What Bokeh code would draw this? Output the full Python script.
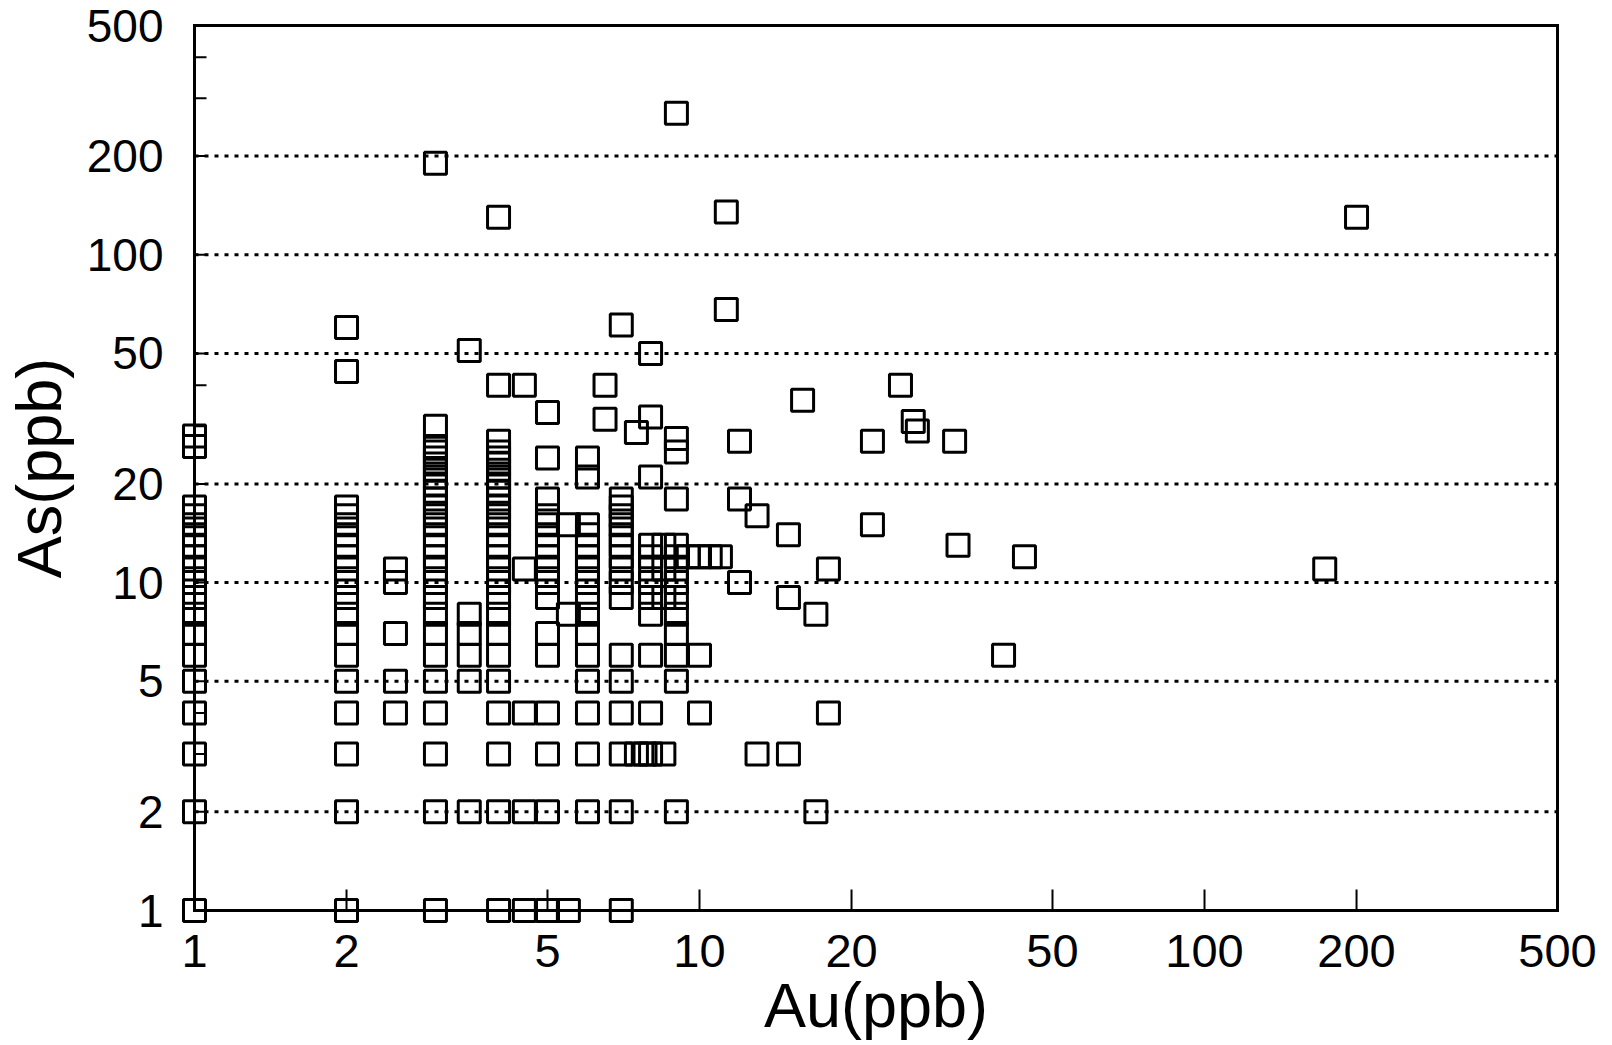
from bokeh.plotting import figure
from bokeh.models import FixedTicker, Range1d, CustomJSTickFormatter, ColumnDataSource
from bokeh.embed import file_html
from bokeh.resources import INLINE

# ---- data: As(ppb) values observed at each Au(ppb) level ----
au_levels = [1, 2, 2.5, 3, 3.5, 4, 4.5, 5, 5.5, 6, 6.5, 7, 7.5, 8, 8.5, 9]
as_by_au = {
    1:   [1, 2, 3, 4, 5, 6, 7, 8, 9, 10, 11, 12, 13, 14, 15, 16, 17, 26, 28],
    2:   [1, 2, 3, 4, 5, 6, 7, 8, 9, 10, 11, 12, 13, 14, 15, 16, 17, 44, 60],
    2.5: [4, 5, 7, 10, 11],
    3:   [1, 2, 3, 4, 5, 6, 7, 8, 9, 10, 11, 12, 13, 14, 15, 16, 17, 18, 19,
          20, 21, 22, 23, 24, 25, 26, 30, 190],
    3.5: [2, 5, 6, 7, 8, 51],
    4:   [1, 2, 3, 4, 5, 6, 7, 8, 9, 10, 11, 12, 13, 14, 15, 16, 17, 18, 19,
          20, 21, 22, 23, 24, 25, 27, 40, 130],
    4.5: [1, 2, 4, 11, 40],
    5:   [1, 2, 3, 4, 6, 7, 9, 10, 11, 12, 13, 14, 15, 16, 18, 24, 33],
    5.5: [1, 8, 15],
    6:   [2, 3, 4, 5, 6, 7, 8, 9, 10, 11, 12, 13, 14, 15, 21, 24],
    6.5: [31.5, 40],
    7:   [1, 2, 3, 4, 5, 6, 9, 10, 11, 12, 13, 14, 15, 16, 17, 18, 61],
    7.5: [3, 28.7],
    8:   [3, 4, 6, 8, 9, 10, 11, 12, 13, 21, 32, 50],
    8.5: [3, 9, 11, 13],
    9:   [2, 5, 6, 7, 8, 9, 10, 11, 12, 13, 18, 25, 27.5, 270],
}

# scattered samples (Au, As)
extra_au = [7.8, 9.5, 10, 10.5, 11, 10, 10, 11.3, 11.3, 12, 12, 12, 13, 13,
            15, 15, 15, 16, 17, 17, 18, 18, 22, 22, 25, 26.5, 27, 32, 32.5,
            40, 44, 173, 200]
extra_as = [3, 12, 12, 12, 12, 6, 4, 135, 68, 27, 18, 10, 16, 3,
            14, 9, 3, 36, 8, 2, 11, 4, 27, 15, 40, 31, 29, 27, 13,
            6, 12, 11, 130]

au_vals, as_vals = [], []
for a in au_levels:
    for v in as_by_au[a]:
        au_vals.append(a)
        as_vals.append(v)
au_vals += extra_au
as_vals += extra_as

src = ColumnDataSource(dict(au=au_vals, as_=as_vals))

x_ticks = [1, 2, 5, 10, 20, 50, 100, 200, 500]
y_ticks = [1, 2, 5, 10, 20, 50, 100, 200, 500]
y_minor = [3, 4, 30, 40, 300, 400]
y_grid = [2, 5, 10, 20, 50, 100, 200]

X_MIN, X_MAX = x_ticks[0], x_ticks[-1]
Y_MIN, Y_MAX = y_ticks[0], y_ticks[-1]

FONT = "Liberation Sans"

# the frame is padded by PAD px on every side so that edge markers are not clipped;
# the visible box (axes lines) is drawn at the data limits.
PAD = 14
BOX_W, BOX_H = 1363, 885
dec_x = BOX_W / 2.69897          # px per decade
dec_y = BOX_H / 2.69897
fx = 10 ** (PAD / dec_x)
fy = 10 ** (PAD / dec_y)

p = figure(x_axis_type="log", y_axis_type="log",
           x_range=Range1d(X_MIN / fx, X_MAX * fx),
           y_range=Range1d(Y_MIN / fy, Y_MAX * fy),
           frame_width=BOX_W + 2 * PAD, frame_height=BOX_H + 2 * PAD,
           min_border_left=176, min_border_top=11,
           min_border_right=34, min_border_bottom=112,
           output_backend="svg", toolbar_location=None,
           background_fill_color="white", border_fill_color="white")

p.outline_line_color = None

fmt = CustomJSTickFormatter(code="return String(Math.round(tick));")

xa = p.xaxis[0]
xa.ticker = FixedTicker(ticks=x_ticks, minor_ticks=[])
xa.formatter = fmt
xa.axis_line_color = None
xa.major_tick_line_color = None
xa.minor_tick_line_color = None
xa.major_label_text_font = FONT
xa.major_label_text_font_size = "47px"
xa.major_label_text_color = "black"
xa.major_label_standoff = 18 - PAD
xa.axis_label = "Au(ppb)"
xa.axis_label_text_font = FONT
xa.axis_label_text_font_size = "63px"
xa.axis_label_text_font_style = "normal"
xa.axis_label_text_color = "black"
xa.axis_label_standoff = 0

ya = p.yaxis[0]
ya.ticker = FixedTicker(ticks=y_ticks, minor_ticks=y_minor)
ya.formatter = fmt
ya.axis_line_color = None
ya.major_tick_line_color = None
ya.minor_tick_line_color = None
ya.major_label_text_font = FONT
ya.major_label_text_font_size = "46px"
ya.major_label_text_color = "black"
ya.major_label_standoff = 25 - PAD
ya.axis_label = "As(ppb)"
ya.axis_label_text_font = FONT
ya.axis_label_text_font_size = "63px"
ya.axis_label_text_font_style = "normal"
ya.axis_label_text_color = "black"
ya.axis_label_standoff = 10

p.xgrid.grid_line_color = None
p.ygrid.grid_line_color = None

# dotted horizontal gridlines across the box
p.segment(x0=[X_MIN] * len(y_grid), x1=[X_MAX] * len(y_grid),
          y0=y_grid, y1=y_grid,
          line_color="black", line_width=3, line_dash="4 6")

# inward tick marks (lengths in px converted to log-data units)
xt = x_ticks[1:-1]
p.segment(x0=xt, x1=xt, y0=[Y_MIN] * len(xt),
          y1=[Y_MIN * 10 ** (21 / dec_y)] * len(xt),
          line_color="black", line_width=2)
p.segment(x0=[X_MIN] * len(y_grid), x1=[X_MIN * 10 ** (13 / dec_x)] * len(y_grid),
          y0=y_grid, y1=y_grid, line_color="black", line_width=2)
p.segment(x0=[X_MIN] * len(y_minor), x1=[X_MIN * 10 ** (12 / dec_x)] * len(y_minor),
          y0=y_minor, y1=y_minor, line_color="black", line_width=2)

# the box: left, bottom, top, right
p.segment(x0=[X_MIN, X_MIN, X_MIN, X_MAX], y0=[Y_MIN, Y_MIN, Y_MAX, Y_MIN],
          x1=[X_MIN, X_MAX, X_MAX, X_MAX], y1=[Y_MAX, Y_MIN, Y_MAX, Y_MAX],
          line_color="black", line_width=3, line_cap="square")

p.scatter("au", "as_", source=src, marker="square", size=22,
          fill_color=None, line_color="black", line_width=3)

open("out.html", "w").write(file_html(p, INLINE))
